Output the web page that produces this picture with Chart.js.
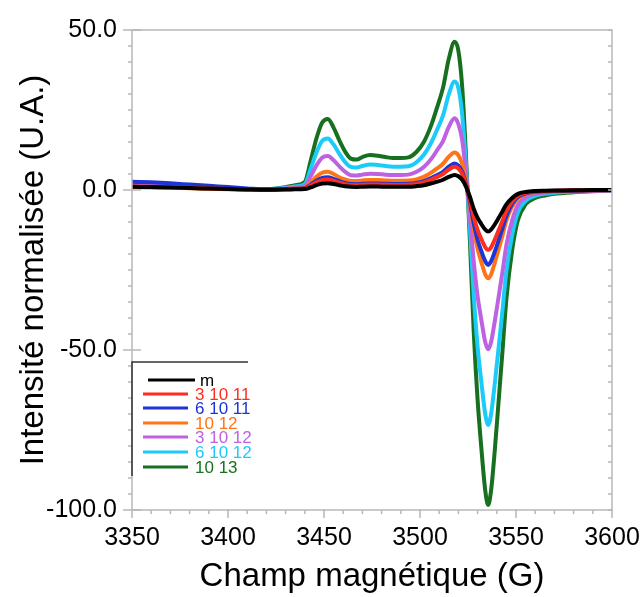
<!DOCTYPE html>
<html>
<head>
<meta charset="utf-8">
<script src="https://cdn.jsdelivr.net/npm/chart.js@4.4.0/dist/chart.umd.min.js"></script>
<style>
html,body{margin:0;padding:0;background:#fff;}
canvas{display:block;}
</style>
</head>
<body>
<canvas id="c" width="644" height="597"></canvas>
<script>
// Magnetic field (G)
const fields = [3350,3360,3370,3380,3390,3400,3410,3420,3425,3430,3435,3440,3443,3446,3449,3452,3455,3458,3461,3464,3467,3470,3474,3478,3482,3486,3490,3494,3498,3502,3506,3509,3512,3515,3518,3520,3522,3524,3526,3528,3530,3532,3534,3535.5,3537,3539,3541,3543,3545,3548,3551,3555,3560,3565,3570,3580,3590,3600];

const labels = ["m","3 10 11","6 10 11","10 12","3 10 12","6 10 12","10 13"];
const colors = ["#000000","#ff2d1e","#1b35d6","#ff7417","#bd62e3","#1ccbfa","#17701f"];

const s_m = [1.0,0.9,0.8,0.6,0.45,0.3,0.15,0.05, 0.1,0.15,0.2,0.3, 0.8,1.5,2.0,2.1,1.85,1.5,1.15, 0.98,0.95,1.03,1.09,1.07,1.03,1.0,1.0,1.02,1.2, 1.5,2.1,2.6,3.2,4.1,4.7,4.3,3.2,1.0, -2.1,-5.9,-8.7,-10.7,-12.4,-13.0,-12.4,-10.7,-8.7,-6.6,-4.5,-2.5,-1.2, -0.6,-0.3,-0.2,-0.15,-0.1,0,0];
const s_31011 = [1.1,1.0,0.9,0.7,0.5,0.35,0.2,0.1, 0.15,0.2,0.3,0.45, 1.3,2.4,3.1,3.3,2.9,2.3,1.8, 1.55,1.5,1.65,1.75,1.7,1.65,1.6,1.6,1.65,1.9, 2.4,3.3,4.1,5.0,6.4,7.3,6.7,5.0,1.6, -3.1,-8.4,-12.5,-15.4,-17.9,-18.75,-17.9,-15.4,-12.5,-9.6,-6.5,-3.6,-1.8, -0.9,-0.5,-0.3,-0.2,-0.1,-0.1,0];
const s_61011 = [2.6,2.4,2.1,1.7,1.3,0.9,0.5,0.2, 0.25,0.3,0.4,0.55, 1.6,2.9,3.8,4.0,3.5,2.8,2.2, 1.85,1.8,1.95,2.05,2.0,1.95,1.9,1.9,1.95,2.2, 2.8,3.8,4.7,5.7,7.3,8.3,7.6,5.7,1.8, -3.8,-10.5,-15.6,-19.2,-22.3,-23.4,-22.3,-19.2,-15.6,-11.9,-8.1,-4.4,-2.2, -1.1,-0.6,-0.4,-0.3,-0.2,-0.1,0];
const s_1012 = [0.85,0.8,0.7,0.55,0.4,0.25,0.1,0.05, 0.15,0.3,0.45,0.7, 2.3,4.1,5.4,5.7,5.0,4.0,3.3, 2.85,2.8,3.0,3.15,3.1,3.0,2.9,2.9,2.95,3.3, 4.1,5.5,6.8,8.2,10.4,11.7,10.8,8.1,2.6, -4.5,-12.4,-18.4,-22.6,-26.4,-27.6,-26.4,-22.6,-18.4,-14.1,-9.5,-5.2,-2.6, -1.3,-0.7,-0.5,-0.3,-0.2,-0.1,0];
const s_31012 = [1.4,1.3,1.1,0.9,0.6,0.4,0.2,0.1, 0.3,0.5,0.8,1.2, 4.2,7.6,10.1,10.6,9.3,7.4,5.7, 4.6,4.5,4.8,5.1,5.0,4.8,4.7,4.7,4.8,5.6, 7.2,9.8,12.5,15.3,19.7,22.4,20.6,15.5,4.9, -8.1,-22.4,-33.2,-40.8,-47.6,-49.8,-47.6,-40.8,-33.2,-25.4,-17.2,-9.5,-4.7, -2.3,-1.2,-0.8,-0.6,-0.3,-0.2,-0.1];
const s_61012 = [1.6,1.5,1.3,1.0,0.7,0.5,0.3,0.2, 0.4,0.7,1.1,1.8, 6.5,11.6,15.3,16.1,14.2,11.3,8.7, 7.2,7.0,7.5,8.0,7.8,7.5,7.3,7.3,7.4,8.6, 11.0,15.0,19.0,23.3,29.9,33.9,31.8,23.4,7.3, -12,-33,-49,-60.2,-70.1,-73.4,-70.1,-60.2,-49,-37.4,-25.3,-14,-7, -3.4,-1.8,-1.2,-0.9,-0.5,-0.3,-0.1];
const s_1013 = [1.3,1.2,1.0,0.8,0.6,0.4,0.2,0.2, 0.5,0.9,1.5,2.5, 9,16,21,22.2,19.5,15.5,12, 9.8,9.5,10.3,10.9,10.7,10.3,10.0,10.0,10.2,11.8, 15,20.5,26,32,41,46.3,43.5,32,10, -16,-44.5,-65.6,-81,-94,-98.4,-94,-81,-65.6,-50,-34,-18.8,-9.4, -4.5,-2.5,-1.7,-1.2,-0.7,-0.4,-0.2];

const series = [s_m,s_31011,s_61011,s_1012,s_31012,s_61012,s_1013];

const xTicks = [3350,3400,3450,3500,3550,3600];
const yTicks = [-100,-50,0,50];

const FONT = "'Liberation Sans', Arial, Helvetica, sans-serif";

const datasets = series.map((vals,i)=>({
  label: labels[i],
  data: vals.map((v,j)=>({x:fields[j], y:v})),
  borderColor: colors[i],
  backgroundColor: colors[i],
  borderWidth: 4,
  pointRadius: 0,
  fill: false,
  cubicInterpolationMode: 'monotone'
}));

const framePlugin = {
  id:'frame',
  afterDraw(chart){
    const {ctx, chartArea:{left,right,top,bottom}, scales:{x,y}} = chart;
    ctx.save();
    ctx.strokeStyle = '#b8b8b8';
    ctx.lineWidth = 1.5;
    ctx.strokeRect(left, top, right-left, bottom-top);
    ctx.beginPath();
    for (let v = xTicks[0]; v <= xTicks[xTicks.length-1]; v += 10) {
      const px = x.getPixelForValue(v);
      const major = xTicks.includes(v);
      ctx.moveTo(px, major ? bottom-1 : bottom);
      ctx.lineTo(px, bottom + (major ? 8 : 4));
    }
    for (let v = yTicks[0]; v <= yTicks[yTicks.length-1]; v += 5) {
      const py = y.getPixelForValue(v);
      const major = yTicks.includes(v);
      ctx.moveTo(major ? left-9 : left-4, py);
      ctx.lineTo(major ? left+9 : left, py);
      ctx.moveTo(right-4, py);
      ctx.lineTo(right, py);
    }
    ctx.stroke();
    ctx.restore();
  }
};

const legendPlugin = {
  id:'customLegend',
  afterDraw(chart){
    const ctx = chart.ctx;
    ctx.save();
    ctx.strokeStyle = '#333';
    ctx.lineWidth = 1.5;
    ctx.beginPath();
    ctx.moveTo(132, 476);
    ctx.lineTo(132, 362);
    ctx.lineTo(248, 362);
    ctx.stroke();
    const rows = [380,394,408,423,437,452,467];
    ctx.font = "17px " + FONT;
    ctx.textBaseline = 'middle';
    ctx.textAlign = 'left';
    chart.data.datasets.forEach((ds,i)=>{
      const yy = rows[i];
      const x0 = i===0 ? 148 : 143;
      const x1 = i===0 ? 195 : 188;
      ctx.strokeStyle = ds.borderColor;
      ctx.lineWidth = 3;
      ctx.beginPath();
      ctx.moveTo(x0, yy); ctx.lineTo(x1, yy);
      ctx.stroke();
      ctx.fillStyle = ds.borderColor;
      ctx.fillText(ds.label, i===0 ? 200 : 195, yy+1);
    });
    ctx.restore();
  }
};

new Chart(document.getElementById('c'), {
  type:'line',
  data:{datasets},
  options:{
    responsive:false,
    animation:false,
    events:[],
    layout:{padding:{left:0,right:32,top:30,bottom:0}},
    plugins:{legend:{display:false}, tooltip:{enabled:false}},
    scales:{
      x:{
        type:'linear', min:3350, max:3600,
        afterBuildTicks(scale){ scale.ticks = xTicks.map(v=>({value:v})); },
        afterFit(scale){ scale.height = 87; scale.paddingRight = 28; scale.paddingLeft = 28; },
        grid:{display:false, drawTicks:false},
        border:{display:false},
        ticks:{padding:13, color:'#000', font:{family:FONT, size:25}, maxRotation:0, autoSkip:false, callback:v=>String(v)},
        title:{display:true, text:'Champ magnétique (G)', color:'#000', font:{family:FONT, size:33}, padding:{top:0,bottom:0}}
      },
      y:{
        type:'linear', min:-100, max:50,
        afterBuildTicks(scale){ scale.ticks = yTicks.map(v=>({value:v})); },
        afterFit(scale){ scale.width = 132; },
        grid:{display:false, drawTicks:false},
        border:{display:false},
        ticks:{padding:15, color:'#000', font:{family:FONT, size:25}, callback:v=>Number(v).toFixed(1)},
        title:{display:true, text:'Intensité normalisée (U.A.)', color:'#000', font:{family:FONT, size:33}, padding:{top:14,bottom:0}}
      }
    }
  },
  plugins:[framePlugin, legendPlugin]
});
</script>
</body>
</html>
